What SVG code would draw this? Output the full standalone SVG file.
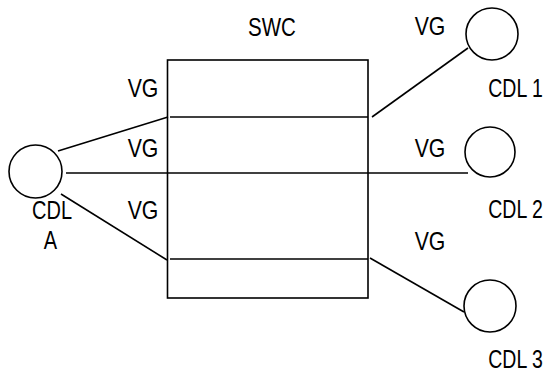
<svg xmlns="http://www.w3.org/2000/svg" width="548" height="375" viewBox="0 0 548 375">
<style>
.s{fill:none;stroke:#000;stroke-width:1.6}
.t{font-family:"Liberation Sans",Arial,sans-serif;font-size:25px;fill:#000;text-anchor:middle}
</style>
<rect width="548" height="375" fill="#fff"/>
<g id="connectors">
<line class="s" x1="58" y1="151" x2="168" y2="117"/>
<line class="s" x1="66" y1="173" x2="468" y2="173"/>
<line class="s" x1="61" y1="194" x2="167" y2="260"/>
<line class="s" x1="372" y1="117" x2="468" y2="48"/>
<line class="s" x1="370" y1="258" x2="464" y2="312"/>
</g>
<g id="SWC">
<rect class="s" x="167.5" y="60" width="200.5" height="238"/>
<line class="s" x1="170" y1="117" x2="368" y2="117"/>
<line class="s" x1="170" y1="259" x2="368" y2="259"/>
<text class="t" transform="translate(272,36) scale(0.82,1)">SWC</text>
</g>
<g id="CDLA">
<circle class="s" cx="35.5" cy="171.5" r="26.5"/>
<text class="t" transform="translate(52,219) scale(0.8,1)">CDL</text>
<text class="t" transform="translate(50.5,249) scale(0.8,1)">A</text>
</g>
<g id="CDL1">
<circle class="s" cx="492" cy="34" r="26"/>
<text class="t" transform="translate(515.5,97) scale(0.78,1)">CDL 1</text>
</g>
<g id="CDL2">
<circle class="s" cx="490" cy="152" r="25"/>
<text class="t" transform="translate(515.5,218) scale(0.78,1)">CDL 2</text>
</g>
<g id="CDL3">
<circle class="s" cx="490" cy="306" r="26"/>
<text class="t" transform="translate(515.5,368) scale(0.78,1)">CDL 3</text>
</g>
<g id="labels">
<text class="t" transform="translate(143,97) scale(0.85,1)">VG</text>
<text class="t" transform="translate(143,157) scale(0.85,1)">VG</text>
<text class="t" transform="translate(143,219) scale(0.85,1)">VG</text>
<text class="t" transform="translate(430,35) scale(0.85,1)">VG</text>
<text class="t" transform="translate(430,157) scale(0.85,1)">VG</text>
<text class="t" transform="translate(430,250) scale(0.85,1)">VG</text>
</g>
</svg>
